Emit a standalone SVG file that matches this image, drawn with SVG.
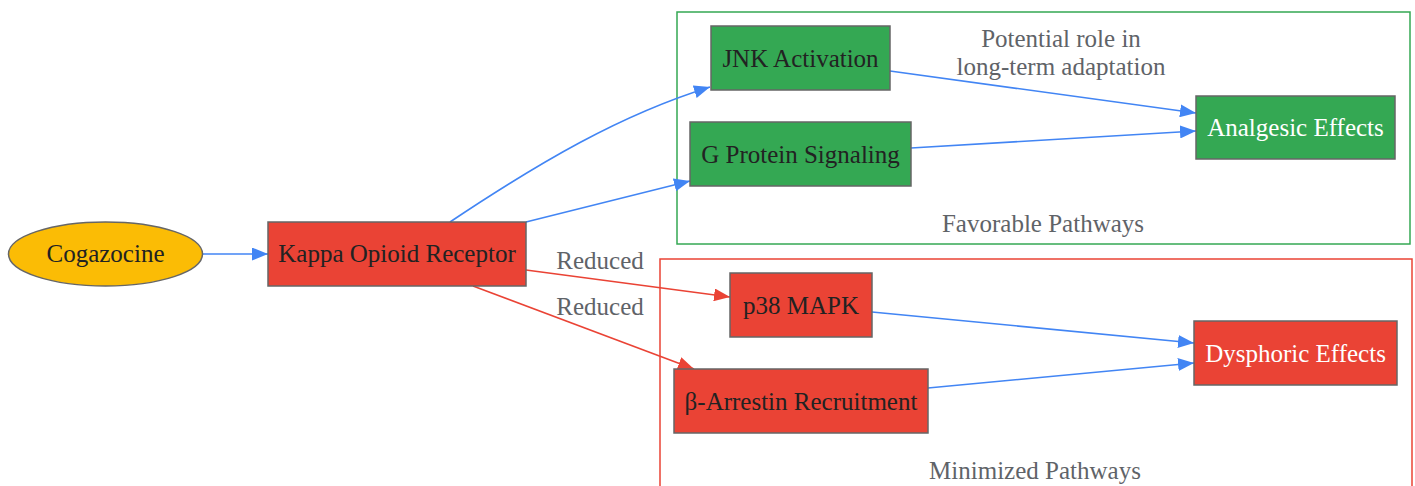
<svg xmlns="http://www.w3.org/2000/svg" width="1415" height="486" viewBox="0 0 1415 486">
<style>
text{font-family:"Liberation Serif","Times New Roman",serif;font-size:25px;text-anchor:middle;dominant-baseline:central}
.n{stroke:#666;stroke-width:1.5}
.dark{fill:#222}
.light{fill:#fff}
.lbl{fill:#5f6368}
.eb{fill:none;stroke:#4285F4;stroke-width:1.6}
.er{fill:none;stroke:#EA4335;stroke-width:1.6}
</style>
<defs>
<marker id="ab" markerUnits="userSpaceOnUse" markerWidth="17" markerHeight="13" refX="16" refY="6.5" orient="auto"><path d="M0,0 L16,6.5 L0,13 Z" fill="#4285F4"/></marker>
<marker id="ar" markerUnits="userSpaceOnUse" markerWidth="17" markerHeight="13" refX="16" refY="6.5" orient="auto"><path d="M0,0 L16,6.5 L0,13 Z" fill="#EA4335"/></marker>
</defs>
<rect width="1415" height="486" fill="#fff"/>
<g id="cluster-favorable">
<rect x="677" y="12" width="733" height="232" fill="none" stroke="#34A853" stroke-width="1.5"/>
<text x="1043" y="223" class="lbl">Favorable Pathways</text>
</g>
<g id="cluster-minimized">
<rect x="660" y="259" width="752" height="240" fill="none" stroke="#EA4335" stroke-width="1.5"/>
<text x="1035" y="470" class="lbl">Minimized Pathways</text>
</g>
<g id="connectors">
<path class="eb" d="M203,254 L268,254" marker-end="url(#ab)"/>
<path class="eb" d="M450,222 C540,162 620,115 710,87" marker-end="url(#ab)"/>
<path class="eb" d="M526,222 L690,181" marker-end="url(#ab)"/>
<path class="eb" d="M890,71 L1196,113" marker-end="url(#ab)"/>
<path class="eb" d="M911,148 L1196,131" marker-end="url(#ab)"/>
<path class="er" d="M526,270 L730,297" marker-end="url(#ar)"/>
<path class="er" d="M473,286 L694,369" marker-end="url(#ar)"/>
<path class="eb" d="M872,312 L1194,343" marker-end="url(#ab)"/>
<path class="eb" d="M928,388 L1194,363" marker-end="url(#ab)"/>
<text x="1061" y="38" class="lbl">Potential role in</text>
<text x="1061" y="66" class="lbl">long-term adaptation</text>
<text x="600" y="260" class="lbl">Reduced</text>
<text x="600" y="306" class="lbl">Reduced</text>
</g>
<g id="cogazocine">
<ellipse cx="105.5" cy="254" rx="97" ry="32" fill="#FBBC05" class="n"/>
<text x="105.5" y="253" class="dark">Cogazocine</text>
</g>
<g id="kappa">
<rect x="268" y="222" width="258" height="64" fill="#EA4335" class="n"/>
<text x="397" y="253" class="dark">Kappa Opioid Receptor</text>
</g>
<g id="jnk">
<rect x="711" y="26" width="179" height="64" fill="#34A853" class="n"/>
<text x="800.5" y="58" class="dark">JNK Activation</text>
</g>
<g id="gprotein">
<rect x="690" y="122" width="221" height="64" fill="#34A853" class="n"/>
<text x="800.5" y="154" class="dark">G Protein Signaling</text>
</g>
<g id="analgesic">
<rect x="1196" y="96" width="199" height="63" fill="#34A853" class="n"/>
<text x="1295.5" y="127" class="light">Analgesic Effects</text>
</g>
<g id="p38">
<rect x="730" y="273" width="142" height="64" fill="#EA4335" class="n"/>
<text x="801" y="305" class="dark">p38 MAPK</text>
</g>
<g id="arrestin">
<rect x="674" y="369" width="254" height="64" fill="#EA4335" class="n"/>
<text x="801" y="401" class="dark">β-Arrestin Recruitment</text>
</g>
<g id="dysphoric">
<rect x="1194" y="321" width="203" height="64" fill="#EA4335" class="n"/>
<text x="1295.5" y="353" class="light">Dysphoric Effects</text>
</g>
</svg>
